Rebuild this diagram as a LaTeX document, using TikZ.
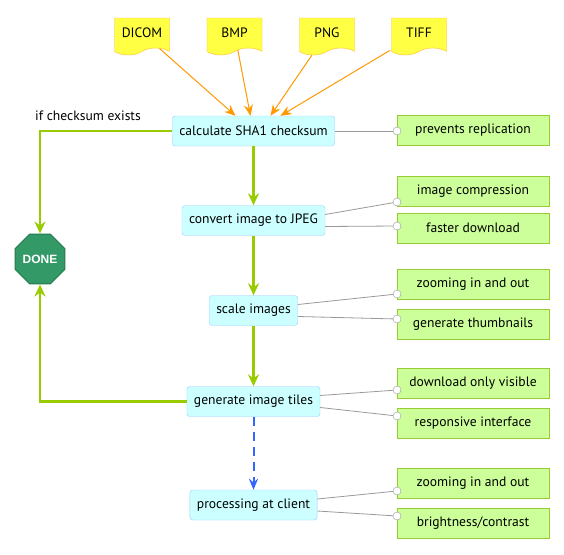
\documentclass[tikz,border=0pt]{standalone}
\usepackage{fontspec}
\setmainfont{PT Sans}
\newfontfamily\donefont{Liberation Sans}
\usetikzlibrary{arrows.meta}
\usetikzlibrary{shapes.symbols}
\usetikzlibrary{shapes.geometric}
\usetikzlibrary{positioning}

\definecolor{stepfill}{HTML}{CCFFFF}
\definecolor{stepline}{HTML}{99CCFF}
\definecolor{notefill}{HTML}{CCFF99}
\definecolor{noteline}{HTML}{99CC33}
\definecolor{docfill}{HTML}{FFFF44}
\definecolor{docline}{HTML}{FFB833}
\definecolor{feedline}{HTML}{FF9900}
\definecolor{flowline}{HTML}{99CC00}
\definecolor{donefill}{HTML}{339966}
\definecolor{doneline}{HTML}{227A4A}
\definecolor{clientline}{HTML}{3366FF}
\definecolor{linkline}{HTML}{999999}

\begin{document}
\begin{tikzpicture}[x=1pt,y=-1pt,font=\fontsize{13.6}{15}\selectfont]
    \useasboundingbox (0,0) rectangle (564,554);
    % input formats
    \begin{scope}[every node/.style={tape,tape bend top=none,tape bend height=7pt,draw=docline,fill=docfill,minimum width=55,minimum height=37,inner sep=0pt}]
    \node (dicom) at (142,33) {DICOM};
    \node (bmp) at (234.5,33) {BMP};
    \node (png) at (327,33) {PNG};
    \node (tiff) at (419,33) {TIFF};
    \end{scope}
    % processing steps
    \begin{scope}[every node/.style={rectangle,rounded corners=3pt,draw=stepline,fill=stepfill,minimum height=30,inner xsep=7pt}]
    \node (sha) at (253.5,131) {calculate SHA1 checksum};
    \node (conv) at (253.5,220.5) {convert image to JPEG};
    \node (scale) at (253.5,310.5) {scale images};
    \node (tiles) at (253.5,401.5) {generate image tiles};
    \node (client) at (253.5,505) {processing at client};
    \end{scope}
    \node[regular polygon,regular polygon sides=8,draw=doneline,fill=donefill,line width=1pt,minimum size=54,inner sep=0pt,text=white,font=\donefont\bfseries\fontsize{12}{14}\selectfont] (done) at (40,259) {DONE};
    \node (cond) at (88,116) {if checksum exists};
    % notes
    \begin{scope}[every node/.style={rectangle,draw=noteline,fill=notefill,line width=1pt,minimum width=152,minimum height=30}]
    \node (repl) at (473,130.5) {prevents replication};
    \node (comp) at (473,191) {image compression};
    \node (fast) at (473,228) {faster download};
    \node (zoom) at (473,284) {zooming in and out};
    \node (thumb) at (473,324) {generate thumbnails};
    \node (vis) at (473,383) {download only visible};
    \node (resp) at (473,423) {responsive interface};
    \node (zoomc) at (473,483) {zooming in and out};
    \node (bright) at (473,523) {brightness/contrast};
    \end{scope}
    % link ends
    \begin{scope}[every node/.style={circle,draw=linkline,fill=white,minimum size=8,inner sep=0pt}]
    \node (l1) at (397,131) {};
    \node (l2) at (397,202) {};
    \node (l3) at (397,226) {};
    \node (l4) at (397,294) {};
    \node (l5) at (397,319) {};
    \node (l6) at (397,390) {};
    \node (l7) at (397,416) {};
    \node (l8) at (397,491) {};
    \node (l9) at (397,516) {};
    \end{scope}
    \begin{scope}[every edge/.style={draw=feedline,line width=1pt,-{Stealth[length=11pt,width=9pt]}}]
    \path (dicom) edge ([xshift=-18pt]sha.north);
    \path (bmp) edge ([xshift=-3pt]sha.north);
    \path (png) edge ([xshift=17pt]sha.north);
    \path (tiff) edge ([xshift=27pt]sha.north);
    \end{scope}
    \begin{scope}[every edge/.style={draw=flowline,line width=2.5pt,-{Stealth[length=12pt,width=11pt]}}]
    \path (sha) edge (conv);
    \path (conv) edge (scale);
    \path (scale) edge (tiles);
    \path (sha.west) edge[to path={-| (\tikztotarget)}] (done.north);
    \path (tiles.west) edge[to path={-| (\tikztotarget)}] (done.south);
    \end{scope}
    \path (tiles) edge[draw=clientline,line width=2pt,dash pattern=on 9pt off 6pt,-{Stealth[length=11pt,width=9pt]}] (client);
    \begin{scope}[every edge/.style={draw=linkline,line width=0.8pt}]
    \path (sha.east) edge (l1);
    \path ([yshift=6pt]conv.east) edge (l2);
    \path ([yshift=-6pt]conv.east) edge (l3);
    \path ([yshift=6pt]scale.east) edge (l4);
    \path ([yshift=-6pt]scale.east) edge (l5);
    \path ([yshift=6pt]tiles.east) edge (l6);
    \path ([yshift=-6pt]tiles.east) edge (l7);
    \path ([yshift=6pt]client.east) edge (l8);
    \path ([yshift=-6pt]client.east) edge (l9);
    \end{scope}
\end{tikzpicture}
\end{document}
